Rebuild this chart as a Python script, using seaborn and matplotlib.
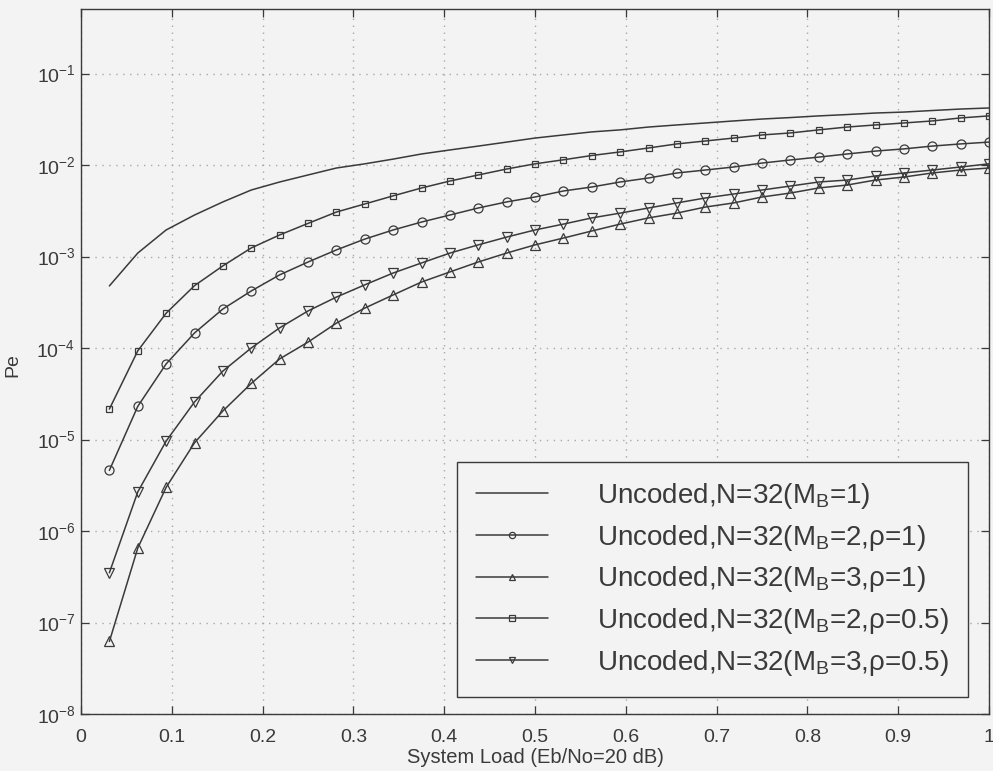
import numpy as np
import pandas as pd
import matplotlib
matplotlib.use("Agg")
import matplotlib.pyplot as plt
import seaborn as sns

# system load = users / N, N = 32
N = 32
users = np.arange(1, 33)

pe_mb1 = [4.77e-4, 1.09e-3, 1.95e-3, 2.84e-3, 3.95e-3, 5.33e-3, 6.52e-3, 7.78e-3,
          9.27e-3, 1.03e-2, 1.16e-2, 1.32e-2, 1.46e-2, 1.61e-2, 1.78e-2, 1.97e-2,
          2.13e-2, 2.30e-2, 2.42e-2, 2.60e-2, 2.74e-2, 2.88e-2, 3.03e-2, 3.18e-2,
          3.30e-2, 3.44e-2, 3.56e-2, 3.70e-2, 3.79e-2, 3.94e-2, 4.09e-2, 4.20e-2]

pe_mb2_r1 = [4.6e-6, 2.3e-5, 6.7e-5, 1.46e-4, 2.67e-4, 4.2e-4, 6.3e-4, 8.7e-4,
             1.18e-3, 1.55e-3, 1.95e-3, 2.38e-3, 2.84e-3, 3.39e-3, 3.95e-3, 4.47e-3,
             5.20e-3, 5.75e-3, 6.52e-3, 7.21e-3, 8.18e-3, 8.81e-3, 9.51e-3, 1.05e-2,
             1.135e-2, 1.22e-2, 1.32e-2, 1.42e-2, 1.50e-2, 1.61e-2, 1.70e-2, 1.78e-2]

pe_mb3_r1 = [6.2e-8, 6.5e-7, 3.0e-6, 9.2e-6, 2.05e-5, 4.1e-5, 7.6e-5, 1.16e-4,
             1.87e-4, 2.73e-4, 3.8e-4, 5.26e-4, 6.78e-4, 8.71e-4, 1.09e-3, 1.34e-3,
             1.59e-3, 1.90e-3, 2.26e-3, 2.64e-3, 2.98e-3, 3.47e-3, 3.85e-3, 4.47e-3,
             4.94e-3, 5.61e-3, 6.04e-3, 6.85e-3, 7.39e-3, 8.18e-3, 8.81e-3, 9.27e-3]

pe_mb2_r05 = [2.15e-5, 9.3e-5, 2.4e-4, 4.8e-4, 7.9e-4, 1.24e-3, 1.72e-3, 2.3e-3,
              3.06e-3, 3.75e-3, 4.6e-3, 5.61e-3, 6.68e-3, 7.78e-3, 9.04e-3, 1.03e-2,
              1.14e-2, 1.27e-2, 1.39e-2, 1.535e-2, 1.70e-2, 1.83e-2, 1.97e-2, 2.13e-2,
              2.24e-2, 2.42e-2, 2.60e-2, 2.74e-2, 2.88e-2, 3.03e-2, 3.27e-2, 3.44e-2]

pe_mb3_r05 = [3.5e-7, 2.67e-6, 9.6e-6, 2.57e-5, 5.6e-5, 1.0e-4, 1.66e-4, 2.54e-4,
              3.6e-4, 4.9e-4, 6.6e-4, 8.5e-4, 1.09e-3, 1.34e-3, 1.63e-3, 1.95e-3,
              2.26e-3, 2.64e-3, 2.98e-3, 3.39e-3, 3.85e-3, 4.36e-3, 4.82e-3, 5.33e-3,
              5.89e-3, 6.52e-3, 6.85e-3, 7.59e-3, 8.18e-3, 8.81e-3, 9.51e-3, 1.03e-2]

labels = [r"Uncoded,N=32(M$_\mathregular{B}$=1)",
          r"Uncoded,N=32(M$_\mathregular{B}$=2,ρ=1)",
          r"Uncoded,N=32(M$_\mathregular{B}$=3,ρ=1)",
          r"Uncoded,N=32(M$_\mathregular{B}$=2,ρ=0.5)",
          r"Uncoded,N=32(M$_\mathregular{B}$=3,ρ=0.5)"]

x_ticks = [0, 0.1, 0.2, 0.3, 0.4, 0.5, 0.6, 0.7, 0.8, 0.9, 1.0]
x_tick_labels = ["0", "0.1", "0.2", "0.3", "0.4", "0.5", "0.6", "0.7", "0.8", "0.9", "1"]
y_ticks = [1e-8, 1e-7, 1e-6, 1e-5, 1e-4, 1e-3, 1e-2, 1e-1]

sns.set_style("ticks")
plt.rcParams["font.family"] = ["Liberation Sans", "DejaVu Sans"]
plt.rcParams["mathtext.fontset"] = "custom"
plt.rcParams["mathtext.rm"] = "Liberation Sans"
plt.rcParams["mathtext.it"] = "Liberation Sans:italic"
plt.rcParams["mathtext.default"] = "regular"

INK = "#3a3a3a"
BG = "#f3f3f3"

df = pd.DataFrame({"load": users / N})
series = [pe_mb1, pe_mb2_r1, pe_mb3_r1, pe_mb2_r05, pe_mb3_r05]
markers = [None, "o", "^", "s", "v"]
msizes = [0, 6.5, 6.5, 5, 6.5]

fig = plt.figure(figsize=(9.93, 7.71), dpi=100, facecolor=BG)
ax = fig.add_axes([81 / 993, 1 - 714 / 771, 908 / 993, 705 / 771])
ax.set_facecolor(BG)

for vals, lab, mk, ms in zip(series, labels, markers, msizes):
    df["pe"] = vals
    kws = dict(color=INK, linewidth=1.1, label=lab)
    if mk is not None:
        kws.update(marker=mk, markersize=ms, markerfacecolor="none",
                   markeredgecolor=INK, markeredgewidth=0.9)
    sns.lineplot(data=df, x="load", y="pe", ax=ax, **kws)

ax.set_yscale("log")
ax.set_xlim(0, 1)
ax.set_ylim(1e-8, 0.507)
ax.set_xticks(x_ticks)
ax.set_xticklabels(x_tick_labels)
ax.set_yticks(y_ticks)
ax.yaxis.set_minor_locator(matplotlib.ticker.NullLocator())

ax.grid(True, which="major", linestyle=(0, (1, 4)), color="#a8a8a8", linewidth=1.0)
ax.tick_params(direction="in", top=True, right=True, length=6, width=0.9,
               colors=INK, labelsize=14)
ax.tick_params(axis="x", pad=11)
ax.tick_params(axis="y", pad=4)
for sp in ax.spines.values():
    sp.set_color(INK)
    sp.set_linewidth(1.0)

ax.set_xlabel("System Load (Eb/No=20 dB)", fontsize=14.5, color=INK, labelpad=1)
ax.set_ylabel("Pe", fontsize=14, color=INK)
ax.yaxis.set_label_coords(-0.066, 0.495)

leg = ax.legend(loc="lower right", bbox_to_anchor=(0.977, 0.024), fontsize=20,
                frameon=True, fancybox=False, framealpha=1, facecolor=BG,
                edgecolor=INK, handlelength=2.6, handletextpad=1.75,
                borderpad=0.7, labelspacing=0.42, borderaxespad=0)
leg.get_frame().set_linewidth(1.0)
for t in leg.get_texts():
    t.set_color(INK)
for h in leg.get_lines():
    h.set_markersize(4.5)

fig.savefig("out.png", dpi=100, facecolor=BG)
